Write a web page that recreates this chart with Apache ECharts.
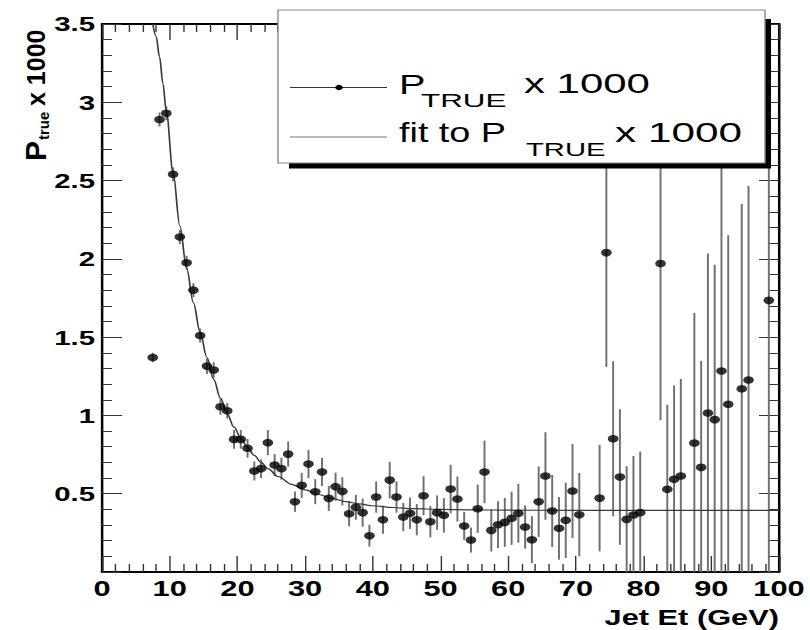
<!DOCTYPE html>
<html>
<head>
<meta charset="utf-8">
<script src="https://cdn.jsdelivr.net/npm/echarts@6/dist/echarts.min.js"></script>
<style>
  html, body { margin: 0; padding: 0; background: #fff; overflow: hidden; }
  #wrap { width: 810px; height: 630px; overflow: hidden; }
  /* the plot is laid out on a narrower canvas and widened horizontally */
  #chart { width: 579px; height: 630px; transform: scaleX(1.39896); transform-origin: 0 0; }
</style>
</head>
<body>
<div id="wrap"><div id="chart"></div></div>
<script>
const SX = 810 / 579;

// Jet Et bin centres (GeV)
const etBins = [
  7.5, 8.5, 9.5, 10.5, 11.5, 12.5, 13.5, 14.5, 15.5, 16.5, 17.5, 18.5, 19.5, 20.5,
  21.5, 22.5, 23.5, 24.5, 25.5, 26.5, 27.5, 28.5, 29.5, 30.5, 31.5, 32.5, 33.5, 34.5,
  35.5, 36.5, 37.5, 38.5, 39.5, 40.5, 41.5, 42.5, 43.5, 44.5, 45.5, 46.5, 47.5, 48.5,
  49.5, 50.5, 51.5, 52.5, 53.5, 54.5, 55.5, 56.5, 57.5, 58.5, 59.5, 60.5, 61.5, 62.5,
  63.5, 64.5, 65.5, 66.5, 67.5, 68.5, 69.5, 70.5, 73.5, 74.5, 75.5, 76.5, 77.5, 78.5,
  79.5, 82.5, 83.5, 84.5, 85.5, 87.5, 88.5, 89.5, 90.5, 91.5, 92.5, 94.5, 95.5, 98.5
];

// P_true x 1000 per bin
const pTrue = [
  1.37, 2.89, 2.93, 2.54, 2.14, 1.975, 1.80, 1.51, 1.315, 1.29, 1.055, 1.03, 0.847, 0.847,
  0.79, 0.645, 0.66, 0.826, 0.683, 0.66, 0.753, 0.449, 0.553, 0.69, 0.513, 0.639, 0.47, 0.545,
  0.515, 0.372, 0.413, 0.379, 0.232, 0.479, 0.334, 0.587, 0.479, 0.351, 0.375, 0.334, 0.487, 0.321,
  0.379, 0.362, 0.53, 0.466, 0.294, 0.204, 0.404, 0.639, 0.266, 0.302, 0.317, 0.343, 0.375, 0.287,
  0.206, 0.449, 0.613, 0.39, 0.279, 0.33, 0.517, 0.366, 0.472, 2.04, 0.851, 0.607, 0.336, 0.364,
  0.379, 1.97, 0.528, 0.592, 0.613, 0.824, 0.668, 1.015, 0.973, 1.284, 1.071, 1.17, 1.226, 1.735
];

// statistical uncertainty per bin
const pTrueErr = [
  0.03, 0.045, 0.045, 0.045, 0.045, 0.045, 0.045, 0.045, 0.05, 0.05, 0.05, 0.05, 0.06, 0.06,
  0.06, 0.06, 0.06, 0.08, 0.07, 0.07, 0.08, 0.065, 0.08, 0.09, 0.08, 0.09, 0.08, 0.09,
  0.09, 0.08, 0.08, 0.09, 0.07, 0.10, 0.09, 0.117, 0.10, 0.09, 0.10, 0.10, 0.125, 0.10,
  0.11, 0.11, 0.155, 0.144, 0.09, 0.08, 0.154, 0.20, 0.135, 0.15, 0.156, 0.17, 0.188, 0.138,
  0.15, 0.225, 0.28, 0.23, 0.20, 0.24, 0.30, 0.266, 0.34, 0.73, 0.495, 0.433, 0.34, 0.377,
  0.39, 1.0, 0.54, 0.60, 0.62, 0.83, 0.68, 1.02, 0.99, 1.35, 1.08, 1.18, 1.24, 2.0
];

// fitted curve, sampled along Jet Et
const fitEt = [
  7.5, 8, 8.5, 9, 9.5, 10.5, 11.5, 12.5, 13.5, 14.5, 15.5, 16.5, 17.5, 18.5, 19.5, 20.5,
  21.5, 22.5, 23.5, 24.5, 26, 28, 30, 32, 34, 36, 38, 40, 43, 46, 50, 55, 60, 70, 80, 90, 100
];
const fitP = [
  3.50, 3.42, 3.29, 3.12, 2.94, 2.55, 2.21, 1.94, 1.72, 1.53, 1.37, 1.23, 1.11, 1.01, 0.925, 0.855,
  0.795, 0.745, 0.70, 0.66, 0.61, 0.56, 0.525, 0.495, 0.47, 0.45, 0.435, 0.423, 0.412, 0.405, 0.40,
  0.397, 0.395, 0.394, 0.393, 0.393, 0.393
];

const FONT = 'Liberation Sans, Arial, Helvetica, sans-serif';
const Y_MAX = 3.5;

const chart = echarts.init(document.getElementById('chart'), null, { renderer: 'svg' });

const tickStyle = { color: '#333', width: 1 };

function xAxisBase(pos) {
  return {
    type: 'value', min: 0, max: 100, interval: 10, position: pos,
    axisLine: { show: true, onZero: false, lineStyle: { color: '#000', width: 2 } },
    axisTick: { show: true, inside: true, length: 16, lineStyle: tickStyle },
    minorTick: { show: true, splitNumber: 5, length: 8, lineStyle: tickStyle },
    splitLine: { show: false }, minorSplitLine: { show: false }
  };
}
function yAxisBase(pos) {
  return {
    type: 'value', min: 0, max: Y_MAX, interval: 0.5, position: pos,
    axisLine: { show: true, onZero: false, lineStyle: { color: '#000', width: 1.8 } },
    axisTick: { show: true, inside: true, length: 20 / SX, lineStyle: tickStyle },
    minorTick: { show: true, splitNumber: 5, length: 10 / SX, lineStyle: tickStyle },
    splitLine: { show: false }, minorSplitLine: { show: false }
  };
}

const xBottom = Object.assign(xAxisBase('bottom'), {
  axisLabel: { fontFamily: FONT, fontWeight: 'bold', fontSize: 22, color: '#000', margin: 6 },
  name: 'Jet Et (GeV)', nameLocation: 'end', nameGap: 0,
  nameTextStyle: {
    fontFamily: FONT, fontWeight: 'bold', fontSize: 22, color: '#000',
    align: 'right', verticalAlign: 'top', padding: [35, 0, 0, 0]
  }
});
const xTop = Object.assign(xAxisBase('top'), { axisLabel: { show: false } });
const yLeft = Object.assign(yAxisBase('left'), {
  axisLabel: { fontFamily: FONT, fontWeight: 'bold', fontSize: 21, color: '#000', margin: 5, showMinLabel: false }
});
const yRight = Object.assign(yAxisBase('right'), { axisLabel: { show: false } });

function legendText(text, sx, y, size, stretch) {
  return { type: 'text', z: 103, x: sx / SX, y: y, scaleX: stretch,
           style: { text: text, fontFamily: FONT, fontSize: size, fill: '#000', verticalAlign: 'middle' } };
}

// legend box (drawn with shadow) and rotated y title
const legendLeft = 278 / SX, legendRight = 765 / SX;
const graphics = [
  { type: 'rect', z: 100, shape: { x: 289 / SX, y: 19, width: (771 - 289) / SX, height: 168.5 - 19 },
    style: { fill: '#000' } },
  { type: 'rect', z: 101, shape: { x: legendLeft, y: 10, width: legendRight - legendLeft, height: 153 },
    style: { fill: '#fff', stroke: '#8a8a8a', lineWidth: 1 } },
  { type: 'line', z: 102, shape: { x1: 290 / SX, y1: 87.5, x2: 387 / SX, y2: 87.5 },
    style: { stroke: '#333', lineWidth: 1 } },
  { type: 'circle', z: 103, shape: { cx: 339 / SX, cy: 87.5, r: 2.7 }, style: { fill: '#000' } },
  { type: 'line', z: 102, shape: { x1: 290 / SX, y1: 137, x2: 387 / SX, y2: 137 },
    style: { stroke: '#777', lineWidth: 1 } },
  legendText('P', 399, 84, 27, 1.05),
  legendText('TRUE', 421, 100.5, 19, 1.18),
  legendText('x 1000', 524, 84, 28, 1.07),
  legendText('fit to P', 399, 132.5, 27, 1.0),
  legendText('TRUE', 526, 149, 19, 1.1),
  legendText('x 1000', 615, 132.5, 28, 1.08),
  {
    type: 'group', z: 103, x: 45 / SX, y: 161, rotation: Math.PI / 2, scaleX: 1, scaleY: 1 / SX,
    children: [
      { type: 'text', x: 0, y: -10, style: { text: 'P', fontFamily: FONT, fontWeight: 'bold', fontSize: 30, fill: '#000', verticalAlign: 'middle' } },
      { type: 'text', x: 21, y: -1.5, style: { text: 'true', fontFamily: FONT, fontWeight: 'bold', fontSize: 15, fill: '#000', verticalAlign: 'middle' } },
      { type: 'text', x: 55, y: -8.7, style: { text: 'x 1000', fontFamily: FONT, fontWeight: 'bold', fontSize: 25, fill: '#000', verticalAlign: 'middle' } }
    ]
  }
];

chart.setOption({
  animation: false,
  backgroundColor: '#fff',
  grid: { left: 102 / SX, right: 579 - 779 / SX, top: 24, bottom: 58, containLabel: false },
  xAxis: [xBottom, xTop],
  yAxis: [yLeft, yRight],
  graphic: graphics,
  series: [
    {
      name: 'err', type: 'custom', xAxisIndex: 0, yAxisIndex: 0, z: 2, clip: true,
      data: etBins.map((x, i) => [x, pTrue[i], pTrueErr[i]]),
      encode: { x: 0, y: 1 },
      renderItem(params, api) {
        const x = api.value(0), y = api.value(1), e = api.value(2);
        const lo = Math.max(0, y - e), hi = Math.min(Y_MAX, y + e);
        const p1 = api.coord([x, lo]), p2 = api.coord([x, hi]);
        return { type: 'line', shape: { x1: p1[0], y1: p1[1], x2: p2[0], y2: p2[1] },
                 style: { stroke: '#707070', lineWidth: 1.4 } };
      }
    },
    {
      name: 'fit to P_TRUE x 1000', type: 'line', xAxisIndex: 0, yAxisIndex: 0, z: 3,
      data: fitEt.map((x, i) => [x, fitP[i]]),
      showSymbol: false, smooth: 0.35, smoothMonotone: 'x', clip: true,
      lineStyle: { color: '#3a3a3a', width: 1.2 }
    },
    {
      name: 'P_TRUE x 1000', type: 'scatter', xAxisIndex: 0, yAxisIndex: 0, z: 4,
      data: etBins.map((x, i) => [x, pTrue[i]]),
      symbol: 'circle', symbolSize: [7.6, 7.6],
      itemStyle: { color: '#000' }
    }
  ]
});
</script>
</body>
</html>
